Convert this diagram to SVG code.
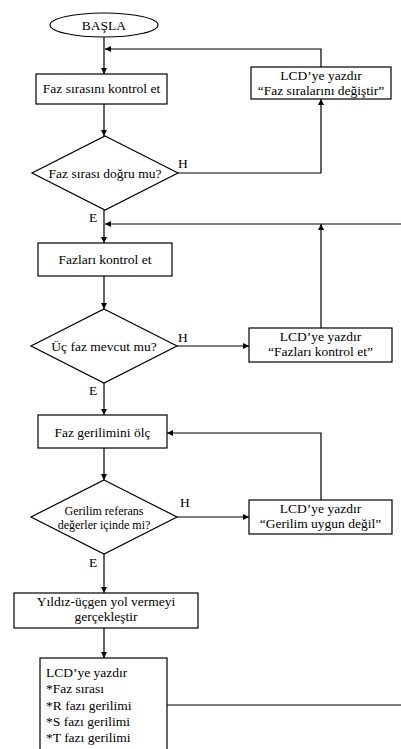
<svg xmlns="http://www.w3.org/2000/svg" width="401" height="749" viewBox="0 0 401 749" font-family="'Liberation Serif', 'Times New Roman', serif">
<defs>
<style>
.s{fill:#fff;stroke:#000;stroke-width:1.2}
.c{fill:none;stroke:#000;stroke-width:1.2}
.t{font-family:'Liberation Serif','Times New Roman',serif;font-size:13.5px;fill:#000}
.m{text-anchor:middle}
.sm{font-size:12px}
</style>
<marker id="a" viewBox="0 0 10 10" refX="10" refY="5" markerWidth="6" markerHeight="6" orient="auto" markerUnits="userSpaceOnUse">
<path d="M0,0 L10,5 L0,10 Z" fill="#000"/>
</marker>
</defs>
<rect width="401" height="749" fill="#fff"/>
<g id="connectors">
<path class="c" d="M104,37 V74" marker-end="url(#a)"/>
<path class="c" d="M321,67 V49 H105" marker-end="url(#a)"/>
<path class="c" d="M104,104 V136" marker-end="url(#a)"/>
<path class="c" d="M178,173 H321 V99" marker-end="url(#a)"/>
<path class="c" d="M104,210 V243" marker-end="url(#a)"/>
<path class="c" d="M401,224 H105" marker-end="url(#a)"/>
<path class="c" d="M321,328 V224" marker-end="url(#a)"/>
<path class="c" d="M104,276 V309" marker-end="url(#a)"/>
<path class="c" d="M177,346 H249" marker-end="url(#a)"/>
<path class="c" d="M104,383 V415" marker-end="url(#a)"/>
<path class="c" d="M321,500 V433 H167" marker-end="url(#a)"/>
<path class="c" d="M104,448 V480" marker-end="url(#a)"/>
<path class="c" d="M177,517 H249" marker-end="url(#a)"/>
<path class="c" d="M104,554 V593" marker-end="url(#a)"/>
<path class="c" d="M104,628 V658" marker-end="url(#a)"/>
<path class="c" d="M167,705 H401"/>
<text x="93" y="222" class="t m">E</text>
<text x="93" y="395" class="t m">E</text>
<text x="93" y="567" class="t m">E</text>
<text x="178" y="168" class="t">H</text>
<text x="178" y="342" class="t">H</text>
<text x="180" y="507" class="t">H</text>
</g>
<g id="start">
<ellipse class="s" cx="104" cy="25" rx="54" ry="12"/>
<text x="104" y="30" class="t m">BAŞLA</text>
</g>
<g id="box1">
<rect class="s" x="36" y="74" width="131" height="30"/>
<text x="101.5" y="93" class="t m">Faz sırasını kontrol et</text>
</g>
<g id="lcd1">
<rect class="s" x="251" y="67" width="140" height="32"/>
<text x="321" y="80" class="t m">LCD’ye yazdır</text>
<text x="321" y="95" class="t m">“Faz sıralarını değiştir”</text>
</g>
<g id="dec1">
<polygon class="s" points="105,136 178,173 105,210 32,173"/>
<text x="105" y="178" class="t m">Faz sırası doğru mu?</text>
</g>
<g id="box2">
<rect class="s" x="38" y="243" width="134" height="33"/>
<text x="105" y="264" class="t m">Fazları kontrol et</text>
</g>
<g id="dec2">
<polygon class="s" points="104,309 177,346 104,383 31,346"/>
<text x="104" y="351" class="t m">Üç faz mevcut mu?</text>
</g>
<g id="lcd2">
<rect class="s" x="249" y="328" width="143" height="34"/>
<text x="320.5" y="341" class="t m">LCD’ye yazdır</text>
<text x="320.5" y="356" class="t m">“Fazları kontrol et”</text>
</g>
<g id="box3">
<rect class="s" x="38" y="415" width="129" height="33"/>
<text x="102.5" y="437" class="t m">Faz gerilimini ölç</text>
</g>
<g id="dec3">
<polygon class="s" points="104,480 177,517 104,554 31,517"/>
<text x="104" y="515" class="t m sm">Gerilim referans</text>
<text x="104" y="529" class="t m sm">değerler içinde mi?</text>
</g>
<g id="lcd3">
<rect class="s" x="249" y="500" width="143" height="34"/>
<text x="320.5" y="513" class="t m">LCD’ye yazdır</text>
<text x="320.5" y="528" class="t m">“Gerilim uygun değil”</text>
</g>
<g id="box4">
<rect class="s" x="14" y="593" width="184" height="35"/>
<text x="106" y="606" class="t m">Yıldız-üçgen yol vermeyi</text>
<text x="106" y="621" class="t m">gerçekleştir</text>
</g>
<g id="lcd4">
<rect class="s" x="40" y="658" width="127" height="100"/>
<text x="46" y="677" class="t">LCD’ye yazdır</text>
<text x="46" y="693" class="t">*Faz sırası</text>
<text x="46" y="710" class="t">*R fazı gerilimi</text>
<text x="46" y="726" class="t">*S fazı gerilimi</text>
<text x="46" y="742" class="t">*T fazı gerilimi</text>
</g>
</svg>
